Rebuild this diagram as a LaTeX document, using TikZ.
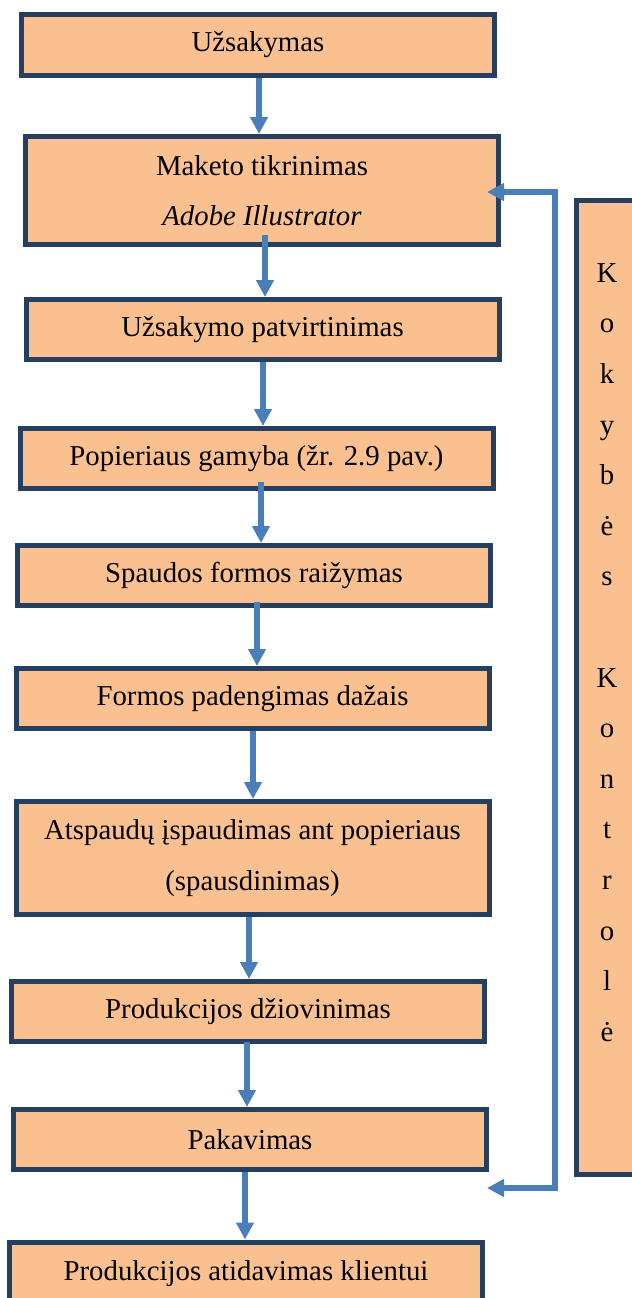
\documentclass[tikz,border=0pt]{standalone}
\usepackage{fontspec}
\setmainfont{Liberation Serif}
\usetikzlibrary{arrows.meta}
\definecolor{boxfill}{HTML}{FAC090}
\definecolor{boxline}{HTML}{243F60}
\definecolor{flowblue}{HTML}{4A7EBB}
\begin{document}
\begin{tikzpicture}[x=0.5pt, y=-0.5pt,
stage/.style={draw=boxline, fill=boxfill, line width=2.5pt, inner sep=0pt, minimum width=236.5pt, minimum height=30pt, align=center, font=\fontsize{14.4}{25.3}\selectfont},
flow/.style={draw=flowblue, line width=2.75pt, -{Triangle[width=8.5pt,length=8.5pt]}}
]
\clip (0,0) rectangle (632,1298);
\node[stage, minimum height=30.5pt] (uzs) at (258,45) {Užsakymas};
\node[stage, minimum height=54pt] (mak) at (262,190.5) {Maketo tikrinimas\\\textit{Adobe Illustrator}};
\node[stage] (patv) at (262.5,329.5) {Užsakymo patvirtinimas};
\node[stage] (pop) at (256.5,458.5) {Popieriaus gamyba (žr. 2.9 pav.)};
\node[stage] (raiz) at (254,575.5) {Spaudos formos raižymas};
\node[stage] (dazai) at (252.5,698.5) {Formos padengimas dažais};
\node[stage, minimum height=56.5pt] (spaud) at (252.5,858) {Atspaudų įspaudimas ant popieriaus\\(spausdinimas)};
\node[stage] (dziov) at (248,1011.5) {Produkcijos džiovinimas};
\node[stage] (pak) at (250,1139.5) {Pakavimas};
\node[stage, minimum height=32pt] (klient) at (246,1274) {Produkcijos atidavimas klientui};
% kokybes kontrole
\node[stage, minimum width=30.5pt, minimum height=487pt] (kok) at (607,687.5) {};
\node[anchor=north, align=center, inner sep=0pt, font=\fontsize{14.4}{25.3}\selectfont] (koktxt) at ([yshift=-32.5pt]kok.north) {K\\o\\k\\y\\b\\ė\\s\\[25.3pt]K\\o\\n\\t\\r\\o\\l\\ė};
\foreach \p/\q/\ax/\dy in {uzs/mak/259/0, mak/patv/265/6, patv/pop/263/0, pop/raiz/261/4.5, raiz/dazai/257/3, dazai/spaud/253/0, spaud/dziov/249/0, dziov/pak/247/1, pak/klient/245/0}
  \draw[flow] ([yshift=\dy pt]\p.south -| \ax,0) -- (\q.north -| \ax,0);
\coordinate (fbtop) at (487,192);
\coordinate (fbtr) at (555,192);
\coordinate (fbbr) at (555,1188);
\coordinate (fbbot) at (487,1188);
\draw[flow, {Triangle[width=8.5pt,length=8.5pt]}-{Triangle[width=8.5pt,length=8.5pt]}] (fbtop) -- (fbtr) -- (fbbr) -- (fbbot);
\end{tikzpicture}
\end{document}
